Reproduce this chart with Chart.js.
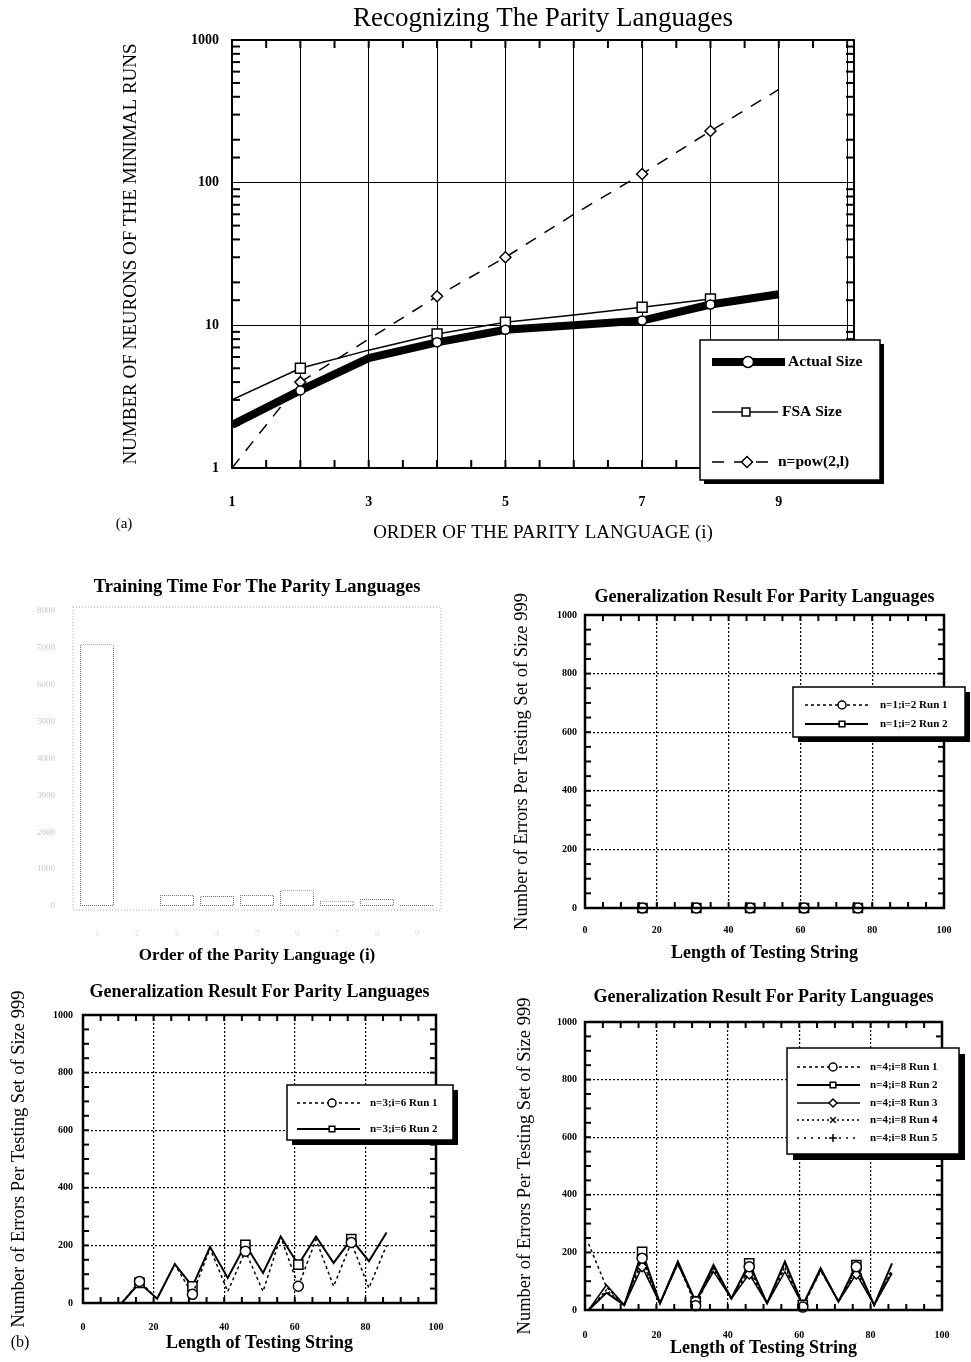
<!DOCTYPE html>
<html>
<head>
<meta charset="utf-8">
<title>Recognizing The Parity Languages</title>
<script src="https://cdn.jsdelivr.net/npm/chart.js"></script>
<style>
  body { margin: 0; background: #fff; }
  #page { position: relative; width: 971px; height: 1362px; overflow: hidden; background: #fff; }
  canvas { position: absolute; }
</style>
</head>
<body>
<div id="page">
  <canvas id="size" width="971" height="560" style="left:0px;top:0px"></canvas>
  <canvas id="train" width="470" height="410" style="left:0px;top:565px"></canvas>
  <canvas id="gen1" width="491" height="400" style="left:480px;top:565px"></canvas>
  <canvas id="gen3" width="480" height="397" style="left:0px;top:965px"></canvas>
  <canvas id="gen4" width="491" height="397" style="left:480px;top:965px"></canvas>
</div>
<script>
// (a) size of the minimal networks
const orders = [1, 2, 3, 4, 5, 6, 7, 8, 9];
const orderTicks = [1, 2, 3, 4, 5, 6, 7, 8, 9, 10];
const actualSize = [2.0, 3.5, 5.9, 7.6, 9.3, 10.0, 10.8, 14.0, 16.5];
const fsaSize = [3.0, 5.0, 6.7, 8.7, 10.5, 11.8, 13.4, 15.3];
const powSize = [1, 4, 8, 16, 30, 60, 115, 230, 450];
const markedOrders = [2, 4, 5, 7, 8];

// (b) training time
const trainOrders = ['1', '2', '3', '4', '5', '6', '7', '8', '9'];
const trainTime = [7100, null, 300, 270, 300, 430, 140, 190, 30];

// (b) generalization
const testLengths = [1, 6, 11, 16, 21, 26, 31, 36, 41, 46, 51, 56, 61, 66, 71, 76, 81, 86];
const markedLengths = [16, 31, 46, 61, 76];
const n1Run1 = [0, 0, 0, 0, 0, 0, 0, 0, 0, 0, 0, 0, 0, 0, 0, 0, 0, 0];
const n1Run2 = [0, 0, 0, 0, 0, 0, 0, 0, 0, 0, 0, 0, 0, 0, 0, 0, 0, 0];
const n3Run1 = [0, 0, 0, 75, 15, 135, 30, 190, 40, 180, 40, 230, 58, 220, 58, 210, 52, 200];
const n3Run2 = [0, 0, 0, 70, 15, 135, 58, 195, 87, 202, 104, 231, 133, 231, 139, 222, 145, 245];
const n4Run1 = [230, 80, 17, 180, 23, 165, 15, 150, 40, 150, 23, 160, 10, 140, 29, 150, 17, 140];
const n4Run2 = [0, 60, 17, 202, 23, 168, 29, 156, 40, 162, 23, 168, 17, 145, 29, 156, 17, 162];
const n4Run3 = [0, 87, 17, 150, 23, 160, 29, 133, 40, 125, 23, 133, 17, 140, 29, 125, 17, 127];
const n4Run4 = [0, 70, 17, 170, 23, 165, 25, 145, 40, 140, 23, 150, 15, 140, 29, 140, 17, 135];
const n4Run5 = [0, 65, 17, 160, 23, 160, 20, 140, 40, 135, 23, 145, 12, 135, 29, 135, 17, 130];

const SERIF = '"Liberation Serif", "DejaVu Serif", serif';
Chart.defaults.font.family = SERIF;
Chart.defaults.color = '#000';

const pairs = (xs, ys) => ys.map((y, i) => ({ x: xs[i], y }));
const isDecade = (v) => Math.abs(Math.log10(v) - Math.round(Math.log10(v))) < 1e-9;
const markAt = (list, r) => (c) => (c.raw && list.includes(c.raw.x) ? r : 0);

function drawMarker(ctx, style, x, y, r) {
  ctx.save();
  ctx.setLineDash([]);
  ctx.lineWidth = 1.5;
  ctx.strokeStyle = '#000';
  ctx.fillStyle = '#fff';
  ctx.beginPath();
  if (style === 'rect') {
    const s = Math.SQRT1_2 * r;
    ctx.rect(x - s, y - s, 2 * s, 2 * s);
  } else if (style === 'rectRot') {
    ctx.moveTo(x, y - r); ctx.lineTo(x + r, y); ctx.lineTo(x, y + r); ctx.lineTo(x - r, y); ctx.closePath();
  } else if (style === 'cross') {
    ctx.moveTo(x - r, y); ctx.lineTo(x + r, y); ctx.moveTo(x, y - r); ctx.lineTo(x, y + r);
    ctx.stroke(); ctx.restore(); return;
  } else if (style === 'crossRot') {
    const s = Math.SQRT1_2 * r;
    ctx.moveTo(x - s, y - s); ctx.lineTo(x + s, y + s); ctx.moveTo(x + s, y - s); ctx.lineTo(x - s, y + s);
    ctx.stroke(); ctx.restore(); return;
  } else {
    ctx.arc(x, y, r, 0, Math.PI * 2);
  }
  ctx.fill();
  ctx.stroke();
  ctx.restore();
}

// boxed legend with a drop shadow, placed inside the canvas
function boxLegend(L) {
  return {
    id: 'boxLegend',
    afterDraw(chart) {
      const ctx = chart.ctx;
      const [x, y, w, h] = L.box;
      ctx.save();
      ctx.fillStyle = '#000';
      ctx.fillRect(x + L.shadow, y + L.shadow, w, h);
      ctx.fillStyle = '#fff';
      ctx.fillRect(x, y, w, h);
      ctx.lineWidth = 1.5;
      ctx.strokeStyle = '#000';
      ctx.strokeRect(x, y, w, h);
      chart.data.datasets.forEach((ds, i) => {
        const row = L.rows[i];
        ctx.setLineDash(ds.borderDash || []);
        ctx.lineWidth = ds.borderWidth;
        ctx.beginPath();
        ctx.moveTo(row[1], row[0]);
        ctx.lineTo(row[2], row[0]);
        ctx.stroke();
        drawMarker(ctx, ds.pointStyle, row[3], row[0], L.marker);
        ctx.setLineDash([]);
        ctx.fillStyle = '#000';
        ctx.font = L.font;
        ctx.textBaseline = 'middle';
        ctx.fillText(ds.label, row[4], row[0]);
      });
      ctx.restore();
    }
  };
}

// plot frame plus small inward tick marks
function frame(o) {
  return {
    id: 'frame',
    afterDatasetsDraw(chart) {
      const { ctx, chartArea: a, scales: { x, y } } = chart;
      const out = o.outset || 0;
      ctx.save();
      ctx.strokeStyle = o.color || '#000';
      ctx.lineWidth = o.width;
      ctx.setLineDash(o.dash || []);
      ctx.strokeRect(a.left - out, a.top - out, a.right - a.left + 2 * out, a.bottom - a.top + 2 * out);
      ctx.setLineDash([]);
      ctx.lineWidth = o.tickWidth || 1.5;
      const len = o.tickLen || 6;
      const seg = (x0, y0, x1, y1) => { ctx.beginPath(); ctx.moveTo(x0, y0); ctx.lineTo(x1, y1); ctx.stroke(); };
      if (o.xStep) {
        for (let v = x.min + o.xStep; v < x.max - 1e-6; v += o.xStep) {
          const px = x.getPixelForValue(v);
          seg(px, a.bottom, px, a.bottom - len);
          seg(px, a.top, px, a.top + len);
        }
      }
      if (o.yStep) {
        for (let v = y.min + o.yStep; v < y.max - 1e-6; v += o.yStep) {
          const py = y.getPixelForValue(v);
          seg(a.left, py, a.left + len, py);
          seg(a.right, py, a.right - len, py);
        }
      }
      if (o.logMinor) {
        y.ticks.forEach((t) => {
          if (isDecade(t.value)) return;
          const py = y.getPixelForValue(t.value);
          seg(a.left, py, a.left + len, py);
          seg(a.right, py, a.right - len, py);
        });
      }
      ctx.restore();
    }
  };
}

function notes(items) {
  return {
    id: 'notes',
    afterDraw(chart) {
      const ctx = chart.ctx;
      ctx.save();
      ctx.fillStyle = '#000';
      ctx.textAlign = 'center';
      ctx.textBaseline = 'middle';
      items.forEach((it) => { ctx.font = it[3]; ctx.fillText(it[0], it[1], it[2]); });
      ctx.restore();
    }
  };
}

const base = { responsive: false, animation: false, devicePixelRatio: 1 };

// ---------- (a) ----------
new Chart(document.getElementById('size'), {
  type: 'line',
  data: {
    datasets: [
      { label: 'Actual Size', data: pairs(orders, actualSize), borderColor: '#000', borderWidth: 8,
        pointStyle: 'circle', pointRadius: markAt(markedOrders, 4.5), pointBackgroundColor: '#fff',
        pointBorderColor: '#000', pointBorderWidth: 1.5, tension: 0 },
      { label: 'FSA Size', data: pairs(orders, fsaSize), borderColor: '#000', borderWidth: 1.5,
        pointStyle: 'rect', pointRadius: markAt(markedOrders, 7), pointBackgroundColor: '#fff',
        pointBorderColor: '#000', pointBorderWidth: 1.5, tension: 0 },
      { label: 'n=pow(2,l)', data: pairs(orders, powSize), borderColor: '#000', borderWidth: 1.5,
        borderDash: [12, 10], pointStyle: 'rectRot', pointRadius: markAt(markedOrders, 5.5),
        pointBackgroundColor: '#fff', pointBorderColor: '#000', pointBorderWidth: 1.5, tension: 0 }
    ]
  },
  options: {
    ...base,
    layout: { padding: { left: 0, right: 117, top: 0, bottom: 0 } },
    plugins: {
      legend: { display: false },
      tooltip: { enabled: false },
      title: { display: true, text: 'Recognizing The Parity Languages', fullSize: false,
        font: { size: 27, weight: 'normal' }, padding: { top: 2.8, bottom: 4.8 } }
    },
    scales: {
      x: {
        type: 'linear', min: 1, max: 10.1,
        afterBuildTicks(s) { s.ticks = orderTicks.map((v) => ({ value: v })); },
        ticks: { padding: 26, font: { size: 14, weight: 'bold' }, maxRotation: 0, autoSkip: false,
          callback: (v) => (v % 2 === 1 ? String(v) : '') },
        grid: { color: '#000', lineWidth: 1, drawTicks: false },
        border: { display: false },
        title: { display: true, text: 'ORDER OF THE PARITY LANGUAGE (i)', font: { size: 19 },
          padding: { top: 0, bottom: 15.6 } },
        afterFit(s) { s.height = 92; }
      },
      y: {
        type: 'logarithmic', min: 1, max: 1000,
        ticks: { padding: 13, font: { size: 14, weight: 'bold' }, autoSkip: false,
          callback: (v) => (isDecade(v) ? String(v) : '') },
        grid: { color: (c) => (!c.tick || isDecade(c.tick.value) ? '#000' : 'rgba(0,0,0,0)'),
          lineWidth: 1, drawTicks: false },
        border: { display: false },
        title: { display: true, text: 'NUMBER OF NEURONS OF THE MINIMAL RUNS', font: { size: 19 },
          padding: { top: 119.6, bottom: 0 } },
        afterFit(s) { s.width = 232; }
      }
    }
  },
  plugins: [
    frame({ width: 2, tickWidth: 2, tickLen: 8, xStep: 0.5, logMinor: true }),
    boxLegend({ box: [700, 340, 180, 140], shadow: 4, marker: 5.5, font: 'bold 15.5px ' + SERIF,
      rows: [[362, 712, 785, 748, 788], [412, 712, 778, 746, 782], [462, 712, 770, 747, 778]] }),
    notes([['(a)', 124, 524, '15px ' + SERIF]])
  ]
});

// ---------- (b) training time ----------
function dotPattern(color) {
  const c = document.createElement('canvas');
  c.width = 2; c.height = 2;
  const g = c.getContext('2d');
  g.fillStyle = '#fff';
  g.fillRect(0, 0, 2, 2);
  g.fillStyle = color;
  g.fillRect(0, 0, 1, 1);
  g.fillRect(1, 1, 1, 1);
  return g.createPattern(c, 'repeat');
}

new Chart(document.getElementById('train'), {
  type: 'bar',
  data: {
    labels: trainOrders,
    datasets: [{ data: trainTime, backgroundColor: '#fff', borderColor: dotPattern('#777'), borderWidth: 1,
      borderSkipped: false, barPercentage: 0.85, categoryPercentage: 1 }]
  },
  options: {
    ...base,
    layout: { padding: { left: 0, right: 33, top: 0, bottom: 0 } },
    plugins: {
      legend: { display: false },
      tooltip: { enabled: false },
      title: { display: true, text: 'Training Time For The Parity Languages', fullSize: false,
        font: { size: 18.5, weight: 'bold' }, padding: { top: 10.9, bottom: 12.9 } }
    },
    scales: {
      x: {
        grid: { display: false }, border: { display: false },
        ticks: { color: '#ddd', font: { size: 9 }, padding: 14 },
        title: { display: true, text: 'Order of the Parity Language (i)', font: { size: 17, weight: 'bold' },
          padding: { top: 0, bottom: 8.8 } },
        afterFit(s) { s.height = 69; }
      },
      y: {
        min: 0, max: 8000,
        ticks: { stepSize: 1000, color: '#c8c8c8', font: { size: 9 }, padding: 14, callback: (v) => String(v) },
        grid: { display: false }, border: { display: false },
        afterFit(s) { s.width = 77; }
      }
    }
  },
  plugins: [frame({ width: 1, color: '#aaa', dash: [1, 2], outset: 4 })]
});

// ---------- (b) generalization ----------
function run(label, values, style, dash, width) {
  return {
    label, data: pairs(testLengths, values), borderColor: '#000', borderWidth: width,
    borderDash: dash, pointStyle: style, pointRadius: markAt(markedLengths, style === 'rect' ? 6.5 : 5),
    pointBackgroundColor: '#fff', pointBorderColor: '#000', pointBorderWidth: 1.5, tension: 0, clip: 8
  };
}

function generalization(id, L, datasets) {
  return new Chart(document.getElementById(id), {
    type: 'line',
    data: { datasets },
    options: {
      ...base,
      layout: { padding: { left: 0, right: L.padRight, top: 0, bottom: 0 } },
      plugins: {
        legend: { display: false },
        tooltip: { enabled: false },
        title: { display: true, text: 'Generalization Result For Parity Languages', fullSize: false,
          font: { size: 18, weight: 'bold' }, padding: { top: L.titleTop, bottom: L.titleBottom } }
      },
      scales: {
        x: {
          type: 'linear', min: 0, max: 100,
          ticks: { stepSize: 20, padding: L.xTickPad, font: { size: 10, weight: 'bold' }, maxRotation: 0 },
          grid: { color: '#000', lineWidth: 1.2, drawTicks: false },
          border: { display: false, dash: [2, 2] },
          title: { display: true, text: 'Length of Testing String', font: { size: 18, weight: 'bold' },
            padding: { top: 0, bottom: L.xTitlePad } },
          afterFit(s) { s.height = L.xHeight; }
        },
        y: {
          min: 0, max: 1000,
          ticks: { stepSize: 200, padding: L.yTickPad, font: { size: 10, weight: 'bold' }, callback: (v) => String(v) },
          grid: { color: '#000', lineWidth: 1.2, drawTicks: false },
          border: { display: false, dash: [2, 2] },
          title: { display: true, text: 'Number of Errors Per Testing Set of Size 999', font: { size: 18.5 },
            padding: { top: L.yTitlePad, bottom: 0 } },
          afterFit(s) { s.width = L.yWidth; }
        }
      }
    },
    plugins: [
      frame({ width: 2.5, tickWidth: 2, tickLen: 6, xStep: 5, yStep: 50 }),
      boxLegend(L.legend),
      notes(L.notes || [])
    ]
  });
}

generalization('gen1', {
  padRight: 27, yWidth: 105, xHeight: 57, titleTop: 21.2, titleBottom: 7.2,
  yTitlePad: 30.9, yTickPad: 8, xTickPad: 16, xTitlePad: 1.2,
  legend: { box: [313, 122, 172, 50], shadow: 5, marker: 4, font: 'bold 11px ' + SERIF,
    rows: [[140, 325, 388, 362, 400], [159, 325, 388, 362, 400]] }
}, [
  run('n=1;i=2 Run 1', n1Run1, 'circle', [3, 3], 1.5),
  run('n=1;i=2 Run 2', n1Run2, 'rect', [], 2)
]);

generalization('gen3', {
  padRight: 44, yWidth: 83, xHeight: 59, titleTop: 16.2, titleBottom: 12.2,
  yTitlePad: 7.9, yTickPad: 10, xTickPad: 18, xTitlePad: 8.2,
  legend: { box: [287, 120, 166, 55], shadow: 5, marker: 4, font: 'bold 11px ' + SERIF,
    rows: [[138, 297, 360, 332, 370], [164, 297, 360, 332, 370]] },
  notes: [['(b)', 20, 1343 - 965, '16px ' + SERIF]]
}, [
  run('n=3;i=6 Run 1', n3Run1, 'circle', [3, 3], 1.5),
  run('n=3;i=6 Run 2', n3Run2, 'rect', [], 2)
]);

generalization('gen4', {
  padRight: 29, yWidth: 105, xHeight: 52, titleTop: 21.2, titleBottom: 14.2,
  yTitlePad: 33.9, yTickPad: 8, xTickPad: 19, xTitlePad: 3.2,
  legend: { box: [307, 83, 172, 106], shadow: 6, marker: 4, font: 'bold 11px ' + SERIF,
    rows: [[102, 317, 380, 353, 390], [120, 317, 380, 353, 390], [138, 317, 380, 353, 390],
      [155, 317, 380, 353, 390], [173, 317, 380, 353, 390]] }
}, [
  run('n=4;i=8 Run 1', n4Run1, 'circle', [3, 3], 1.5),
  run('n=4;i=8 Run 2', n4Run2, 'rect', [], 2),
  run('n=4;i=8 Run 3', n4Run3, 'rectRot', [], 1.5),
  run('n=4;i=8 Run 4', n4Run4, 'crossRot', [2, 3], 1.5),
  run('n=4;i=8 Run 5', n4Run5, 'cross', [2, 5], 1.5)
]);
</script>
</body>
</html>
